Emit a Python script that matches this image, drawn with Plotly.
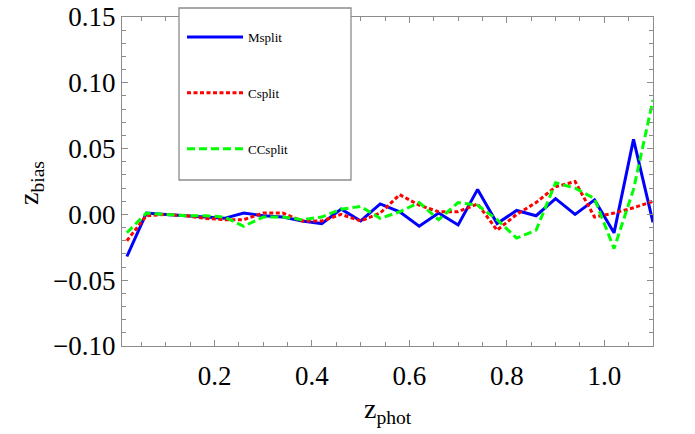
import plotly.graph_objects as go

# ---- data ----
z_phot = [0.02, 0.06, 0.10, 0.14, 0.18, 0.22, 0.26, 0.30, 0.34, 0.38,
          0.42, 0.46, 0.50, 0.54, 0.58, 0.62, 0.66, 0.70, 0.74, 0.78,
          0.82, 0.86, 0.90, 0.94, 0.98, 1.02, 1.06, 1.10]

msplit = [-0.032, 0.001, 0.000, -0.001, -0.002, -0.003, 0.001, -0.001, -0.002, -0.005,
          -0.007, 0.004, -0.005, 0.008, 0.002, -0.009, 0.001, -0.008, 0.019, -0.007,
          0.003, -0.001, 0.012, 0.000, 0.011, -0.014, 0.057, -0.006]

csplit = [-0.020, -0.001, 0.000, -0.001, -0.003, -0.004, -0.004, 0.001, 0.001, -0.005,
          -0.005, 0.000, -0.005, 0.001, 0.015, 0.007, 0.002, 0.002, 0.008, -0.012,
          0.000, 0.009, 0.021, 0.025, -0.002, 0.001, 0.005, 0.010]

ccsplit = [-0.014, 0.001, 0.000, -0.001, -0.001, -0.002, -0.009, -0.002, -0.002, -0.004,
           -0.002, 0.004, 0.006, -0.003, 0.002, 0.009, -0.004, 0.009, 0.007, -0.004,
           -0.018, -0.012, 0.024, 0.020, 0.012, -0.026, 0.019, 0.087]

series_names = ["Msplit", "Csplit", "CCsplit"]

# ---- styling ----
FONT = "Liberation Serif"
FRAME = "#8c8c8c"

styles = [
    dict(color="#0000ff", width=3, dash="solid"),
    dict(color="#ff0000", width=3, dash="4px,2.5px"),
    dict(color="#00ff00", width=3, dash="8px,4px"),
]

fig = go.Figure()
for name, ys, st in zip(series_names, [msplit, csplit, ccsplit], styles):
    fig.add_trace(go.Scatter(x=z_phot, y=ys, mode="lines", name=name,
                             legendgroup=name, line=st))

L, R, T, B = 122, 42, 17, 88
W, H = 695, 434
pw, ph = W - L - R, H - T - B

def px(xp):
    return (xp - L) / pw

def py(yp):
    return (H - B - yp) / ph

axis_common = dict(
    showline=True, linecolor=FRAME, linewidth=1, mirror="allticks",
    ticks="inside", ticklen=6, tickcolor=FRAME, tickwidth=1,
    showgrid=False, zeroline=False, automargin=False,
    tickfont=dict(family=FONT, size=27, color="black"),
)

fig.update_xaxes(range=[0.01, 1.10], tick0=0, dtick=0.2, tickformat=".1f",
                 minor=dict(ticks="inside", ticklen=4, tickcolor=FRAME, dtick=0.05, tick0=0),
                 ticklabelstandoff=6, **axis_common)
fig.update_yaxes(range=[-0.10, 0.15], tick0=0, dtick=0.05, tickformat=".2f",
                 minor=dict(ticks="inside", ticklen=4, tickcolor=FRAME, dtick=0.01, tick0=0),
                 ticklabelstandoff=0, **axis_common)

fig.add_shape(type="rect", xref="paper", yref="paper",
              x0=px(179), x1=px(351), y0=py(180), y1=py(8),
              line=dict(color=FRAME, width=1.3), fillcolor="white", layer="above")

fig.add_annotation(text="z<sub>bias</sub>", xref="paper", yref="paper",
                   x=px(30), y=py(183), textangle=-90, showarrow=False,
                   xanchor="center", yanchor="middle",
                   font=dict(family=FONT, size=28, color="black"))
fig.add_annotation(text="z<sub>phot</sub>", xref="paper", yref="paper",
                   x=px(388), y=py(410), showarrow=False,
                   xanchor="center", yanchor="middle",
                   font=dict(family=FONT, size=28, color="black"))

fig.update_layout(
    width=W, height=H,
    margin=dict(l=L, r=R, t=T, b=B, autoexpand=False),
    paper_bgcolor="white", plot_bgcolor="white",
    showlegend=True,
    legend=dict(x=px(182), y=py(22), xanchor="left", yanchor="top",
                bgcolor="rgba(0,0,0,0)", borderwidth=0,
                tracegroupgap=36, itemwidth=56,
                font=dict(family=FONT, size=13, color="black")),
)

fig.write_html("out.html", config={"displayModeBar": False},
               post_script="document.body.style.margin='0';document.body.style.padding='0';")
